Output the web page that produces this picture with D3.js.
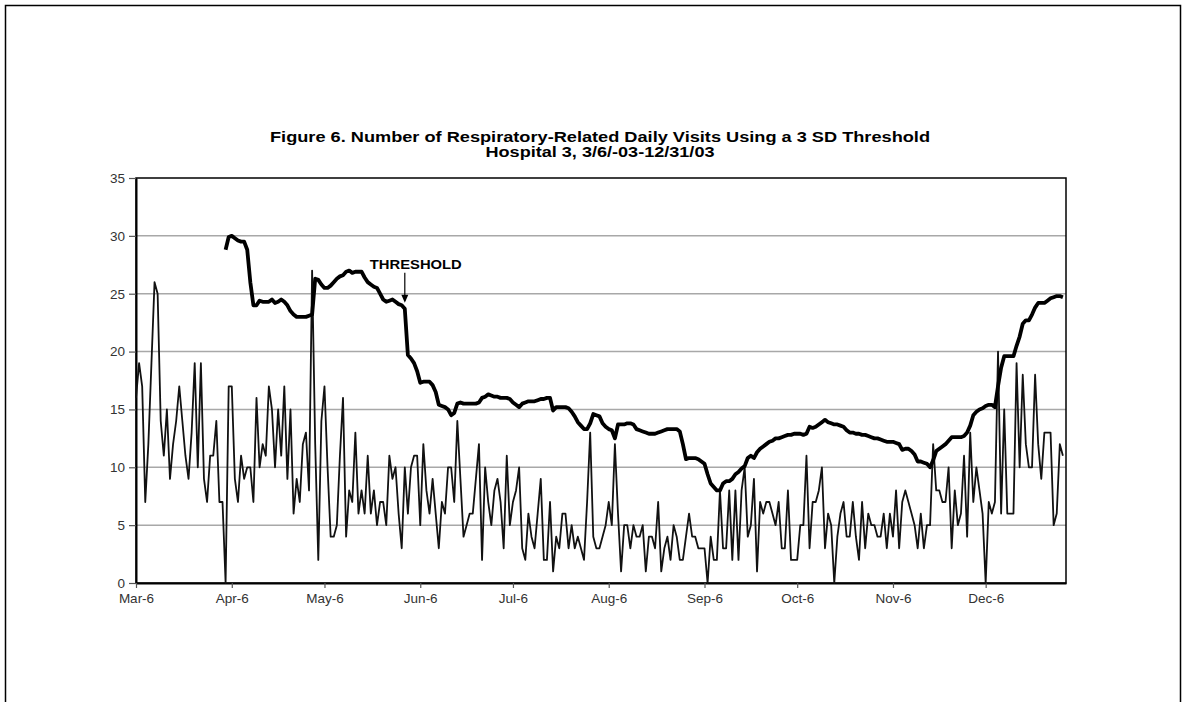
<!DOCTYPE html>
<html>
<head>
<meta charset="utf-8">
<script src="https://cdnjs.cloudflare.com/ajax/libs/d3/7.8.5/d3.min.js"></script>
<style>
  body { margin: 0; background: #fff; }
  #viz { width: 1187px; height: 702px; }
  text { font-family: Arial, "Liberation Sans", sans-serif; }
</style>
</head>
<body>
<div id="viz"></div>
<script>
// first day of the series, 3/6/03
var startDate = new Date(Date.UTC(2003, 2, 6));

// daily respiratory-related visits, 3/6/03 .. 12/31/03
var visits = [
  16, 19, 17, 7, 12, 19, 26, 25, 14, 11,
  15, 9, 12, 14, 17, 14, 11, 9, 13, 19,
  10, 19, 9, 7, 11, 11, 14, 7, 7, 0,
  17, 17, 9, 7, 11, 9, 10, 10, 7, 16,
  10, 12, 11, 17, 15, 10, 15, 11, 17, 9,
  15, 6, 9, 7, 12, 13, 8, 27, 12, 2,
  14, 17, 10, 4, 4, 5, 11, 16, 4, 8,
  7, 13, 6, 8, 6, 11, 6, 8, 5, 7,
  7, 5, 11, 9, 10, 6, 3, 10, 6, 10,
  11, 11, 5, 12, 8, 6, 9, 6, 3, 7,
  6, 10, 10, 7, 14, 9, 4, 5, 6, 6,
  9, 12, 2, 10, 7, 5, 8, 9, 7, 3,
  11, 5, 7, 8, 10, 3, 2, 6, 4, 3,
  6, 9, 2, 2, 7, 1, 4, 3, 6, 6,
  3, 5, 3, 4, 3, 2, 7, 13, 4, 3,
  3, 4, 5, 7, 5, 12, 6, 1, 5, 5,
  3, 5, 4, 4, 5, 1, 4, 4, 3, 7,
  1, 3, 4, 2, 5, 4, 2, 2, 4, 6,
  4, 4, 3, 3, 3, 0, 4, 2, 2, 8,
  3, 3, 8, 2, 8, 2, 8, 10, 4, 5,
  9, 1, 7, 6, 7, 7, 6, 5, 7, 3,
  3, 8, 2, 2, 2, 5, 5, 11, 3, 7,
  7, 8, 10, 3, 6, 5, 0, 4, 6, 7,
  4, 4, 7, 4, 2, 7, 3, 6, 5, 5,
  4, 4, 6, 3, 6, 4, 8, 3, 7, 8,
  7, 6, 5, 3, 6, 3, 5, 5, 12, 8,
  8, 7, 7, 10, 3, 8, 5, 6, 11, 4,
  13, 7, 10, 8, 6, 0, 7, 6, 7, 20,
  6, 15, 6, 6, 6, 19, 10, 18, 12, 10,
  10, 18, 12, 9, 13, 13, 13, 5, 6, 12,
  11
];

// 3 SD threshold, starts on day 29 (4/4/03)
var thresholdStart = 29;
var threshold = [
  28.8, 29.9, 30.0, 29.8, 29.6, 29.5, 29.5, 28.8, 26.0, 24.0,
  24.0, 24.4, 24.3, 24.3, 24.3, 24.5, 24.2, 24.3, 24.5, 24.3,
  24.0, 23.5, 23.2, 23.0, 23.0, 23.0, 23.0, 23.1, 23.2, 26.3,
  26.2, 25.8, 25.5, 25.5, 25.7, 26.0, 26.3, 26.5, 26.6, 26.9,
  27.0, 26.8, 26.9, 26.9, 26.9, 26.4, 26.0, 25.8, 25.6, 25.5,
  25.0, 24.5, 24.3, 24.4, 24.5, 24.3, 24.1, 24.0, 23.7, 19.7,
  19.4, 19.0, 18.3, 17.3, 17.4, 17.4, 17.4, 17.1, 16.5, 15.4,
  15.3, 15.2, 15.0, 14.5, 14.7, 15.5, 15.6, 15.5, 15.5, 15.5,
  15.5, 15.5, 15.6, 16.0, 16.1, 16.3, 16.2, 16.1, 16.1, 16.0,
  16.0, 16.0, 15.9, 15.6, 15.4, 15.2, 15.5, 15.6, 15.7, 15.7,
  15.7, 15.8, 15.9, 15.9, 16.0, 16.0, 14.9, 15.2, 15.2, 15.2,
  15.2, 15.1, 14.8, 14.4, 13.9, 13.6, 13.3, 13.3, 13.8, 14.6,
  14.5, 14.4, 13.8, 13.5, 13.3, 13.2, 12.5, 13.7, 13.7, 13.7,
  13.8, 13.8, 13.7, 13.3, 13.2, 13.1, 13.0, 12.9, 12.9, 12.9,
  13.0, 13.1, 13.2, 13.3, 13.3, 13.3, 13.3, 13.1, 12.0, 10.7,
  10.8, 10.8, 10.8, 10.7, 10.5, 10.3, 9.4, 8.6, 8.3, 8.0,
  8.0, 8.6, 8.8, 8.8, 9.0, 9.4, 9.6, 9.9, 10.1, 10.8,
  11.0, 10.8, 11.3, 11.6, 11.8, 12.0, 12.2, 12.3, 12.5, 12.5,
  12.6, 12.7, 12.8, 12.8, 12.9, 12.9, 12.9, 12.8, 12.9, 13.5,
  13.4, 13.5, 13.7, 13.9, 14.1, 13.9, 13.8, 13.7, 13.7, 13.6,
  13.5, 13.2, 13.0, 13.0, 12.9, 12.9, 12.8, 12.8, 12.7, 12.6,
  12.5, 12.5, 12.4, 12.3, 12.2, 12.2, 12.2, 12.1, 12.0, 11.5,
  11.6, 11.6, 11.4, 11.1, 10.5, 10.5, 10.4, 10.3, 10.0, 10.6,
  11.4, 11.6, 11.8, 12.0, 12.3, 12.6, 12.6, 12.6, 12.6, 12.7,
  13.0, 13.6, 14.5, 14.8, 15.0, 15.1, 15.3, 15.4, 15.4, 15.2,
  17.0, 18.6, 19.6, 19.6, 19.6, 19.6, 20.5, 21.3, 22.4, 22.7,
  22.7, 23.2, 23.8, 24.2, 24.2, 24.2, 24.4, 24.6, 24.7, 24.8,
  24.8, 24.7
];

var yTicks = [0, 5, 10, 15, 20, 25, 30, 35];
var xTickLabels = ["Mar-6", "Apr-6", "May-6", "Jun-6", "Jul-6", "Aug-6", "Sep-6", "Oct-6", "Nov-6", "Dec-6"];
var titleLines = [
  "Figure 6. Number of Respiratory-Related Daily Visits Using a 3 SD Threshold",
  "Hospital 3, 3/6/-03-12/31/03"
];
var arrowDay = 87; // day the THRESHOLD label points at

var plot = { left: 136, right: 1066, top: 178, bottom: 583 };

function dayDate(i) {
  return d3.utcDay.offset(startDate, i);
}

var svg = d3.select('#viz').append('svg')
  .attr('width', 1187)
  .attr('height', 702);

svg.append('rect')
  .attr('width', 1187).attr('height', 702)
  .attr('fill', '#fff');

// page frame (bottom edge is off the picture)
svg.append('rect')
  .attr('x', 5.5).attr('y', 5.5)
  .attr('width', 1175).attr('height', 740)
  .attr('fill', 'none')
  .attr('stroke', '#000')
  .attr('stroke-width', 1.5);

var x = d3.scaleUtc()
  .domain([startDate, dayDate(visits.length)])
  .range([plot.left, plot.right]);

var y = d3.scaleLinear()
  .domain([0, 35])
  .range([plot.bottom, plot.top]);

// title, two lines
var titleWidths = [660, 229];
svg.append('g').selectAll('text')
  .data(titleLines)
  .enter().append('text')
  .attr('x', 600)
  .attr('y', function (d, i) { return 142 + i * 15; })
  .attr('text-anchor', 'middle')
  .attr('font-size', 14).attr('font-weight', 'bold')
  .attr('textLength', function (d, i) { return titleWidths[i]; })
  .attr('lengthAdjust', 'spacingAndGlyphs')
  .text(function (d) { return d; });

// gridlines
svg.append('g').attr('class', 'grid')
  .selectAll('line')
  .data(yTicks.filter(function (d) { return d > 0 && d < 35; }))
  .enter().append('line')
  .attr('x1', plot.left).attr('x2', plot.right)
  .attr('y1', function (d) { return y(d); })
  .attr('y2', function (d) { return y(d); })
  .attr('stroke', '#a8a8a8')
  .attr('stroke-width', 1.5);

// plot area border
svg.append('rect')
  .attr('x', plot.left).attr('y', plot.top)
  .attr('width', plot.right - plot.left)
  .attr('height', plot.bottom - plot.top)
  .attr('fill', 'none')
  .attr('stroke', '#000')
  .attr('stroke-width', 1.5);

// axes
var yAxis = svg.append('g')
  .attr('transform', 'translate(' + plot.left + ',0)')
  .call(d3.axisLeft(y).tickValues(yTicks).tickSize(7).tickSizeOuter(0).tickPadding(4));

var tickDates = xTickLabels.map(function (d, i) {
  return d3.utcMonth.offset(startDate, i);
});
var xAxis = svg.append('g')
  .attr('transform', 'translate(0,' + plot.bottom + ')')
  .call(d3.axisBottom(x).tickValues(tickDates)
    .tickFormat(function (d, i) { return xTickLabels[i]; })
    .tickSize(5).tickSizeOuter(0).tickPadding(5));

[yAxis, xAxis].forEach(function (ax) {
  ax.select('.domain').attr('stroke', '#000').attr('stroke-width', 2);
  ax.selectAll('.tick line').attr('stroke', '#555').attr('stroke-width', 1.2);
  ax.selectAll('.tick text')
    .attr('fill', '#333')
    .style('font-size', '13.5px')
    .style('font-family', 'Arial, "Liberation Sans", sans-serif');
});

// daily visits
var visitLine = d3.line()
  .x(function (d, i) { return x(dayDate(i)); })
  .y(function (d) { return y(d); });

svg.append('path')
  .datum(visits)
  .attr('d', visitLine)
  .attr('fill', 'none')
  .attr('stroke', '#111')
  .attr('stroke-width', 1.8)
  .attr('stroke-linejoin', 'round');

// threshold
var thresholdLine = d3.line()
  .x(function (d, i) { return x(dayDate(i + thresholdStart)); })
  .y(function (d) { return y(d); });

svg.append('path')
  .datum(threshold)
  .attr('d', thresholdLine)
  .attr('fill', 'none')
  .attr('stroke', '#000')
  .attr('stroke-width', 3.8)
  .attr('stroke-linejoin', 'round');

// THRESHOLD annotation
var ax = x(dayDate(arrowDay));
var tipY = y(threshold[arrowDay - thresholdStart]) - 6;
svg.append('line')
  .attr('x1', ax).attr('x2', ax)
  .attr('y1', tipY - 30).attr('y2', tipY - 2)
  .attr('stroke', '#000').attr('stroke-width', 1.2);
svg.append('path')
  .attr('d', 'M' + (ax - 3.5) + ',' + (tipY - 8) + 'L' + ax + ',' + tipY + 'L' + (ax + 3.5) + ',' + (tipY - 8) + 'Z')
  .attr('fill', '#000');
svg.append('text')
  .attr('x', ax + 11).attr('y', tipY - 34)
  .attr('text-anchor', 'middle')
  .attr('font-size', 13).attr('font-weight', 'bold')
  .attr('textLength', 92).attr('lengthAdjust', 'spacingAndGlyphs')
  .text('THRESHOLD');
</script>
</body>
</html>
